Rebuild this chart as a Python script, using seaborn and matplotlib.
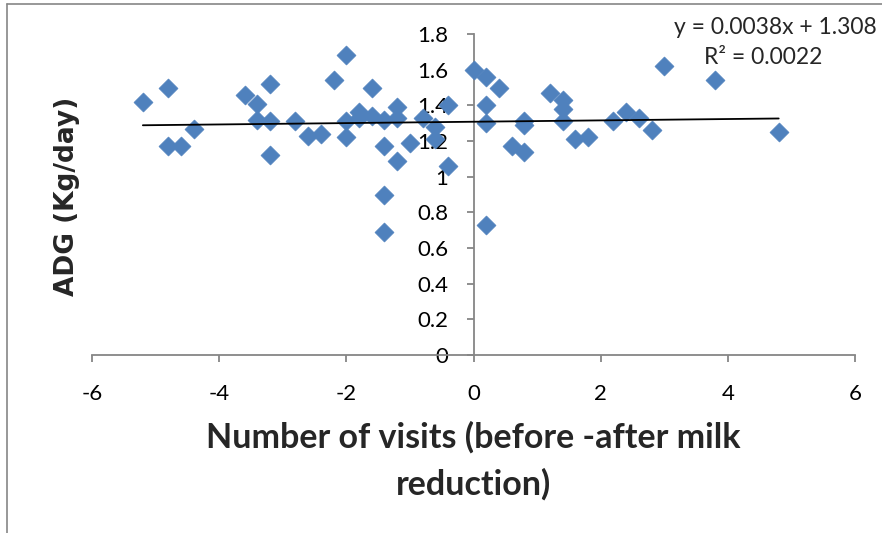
import matplotlib
matplotlib.use("Agg")
import matplotlib.pyplot as plt
from matplotlib.lines import Line2D
import numpy as np
import pandas as pd
import seaborn as sns

# Change in number of visits (before - after milk reduction) and average daily gain
visits_diff = [
    -5.2, -4.8, -4.8, -4.6, -4.4, -3.6, -3.4, -3.4, -3.2, -3.2, -3.2,
    -2.8, -2.6, -2.4, -2.2, -2.0, -2.0, -2.0, -1.8, -1.8, -1.6, -1.6,
    -1.4, -1.4, -1.4, -1.4, -1.2, -1.2, -1.2, -1.0, -0.8, -0.6, -0.6,
    -0.4, -0.4, 0.0, 0.2, 0.2, 0.2, 0.2, 0.4, 0.6, 0.8, 0.8, 0.8,
    1.2, 1.4, 1.4, 1.4, 1.6, 1.8, 2.2, 2.4, 2.6, 2.8, 3.0, 3.8, 4.8,
]
adg = [
    1.42, 1.50, 1.17, 1.17, 1.27, 1.46, 1.41, 1.32, 1.52, 1.31, 1.12,
    1.31, 1.23, 1.24, 1.54, 1.68, 1.31, 1.22, 1.36, 1.33, 1.50, 1.34,
    1.32, 1.17, 0.90, 0.69, 1.39, 1.33, 1.09, 1.19, 1.33, 1.28, 1.21,
    1.40, 1.06, 1.60, 1.56, 1.40, 1.30, 0.73, 1.50, 1.17, 1.31, 1.29, 1.14,
    1.47, 1.43, 1.38, 1.31, 1.21, 1.22, 1.31, 1.36, 1.33, 1.26, 1.62, 1.54, 1.25,
]

# Linear trend line parameters
slope = 0.0038
intercept = 1.308
r_squared = 0.0022

x_ticks = [-6, -4, -2, 0, 2, 4, 6]
y_ticks = [0, 0.2, 0.4, 0.6, 0.8, 1.0, 1.2, 1.4, 1.6, 1.8]
y_tick_labels = ["0", "0.2", "0.4", "0.6", "0.8", "1", "1.2", "1.4", "1.6", "1.8"]

df = pd.DataFrame({"visits": visits_diff, "adg": adg})

sns.set_theme(style="white")
plt.rcParams["font.family"] = ["Lato", "DejaVu Sans"]

axis_grey = "#868686"
point_blue = "#4F81BD"

fig = plt.figure(figsize=(8.82, 5.33), dpi=100)
ax = fig.add_axes([92 / 882, 1 - 355 / 533, 763 / 882, 321 / 533])

sns.scatterplot(data=df, x="visits", y="adg", marker="D", s=95,
                color=point_blue, edgecolor=point_blue, linewidth=0.4,
                ax=ax, zorder=3, clip_on=False)

# Trend line over the observed range
line_x = np.array([min(visits_diff), max(visits_diff)])
ax.plot(line_x, slope * line_x + intercept, color="black", lw=1.3, zorder=4)

ax.set_xlim(-6, 6)
ax.set_ylim(0, 1.8)
ax.set_xticks(x_ticks)
ax.set_xticklabels([str(t) for t in x_ticks])
ax.set_yticks(y_ticks)
ax.set_yticklabels(y_tick_labels)

for side in ["top", "right"]:
    ax.spines[side].set_visible(False)
ax.spines["left"].set_position(("data", 0))
for side in ["left", "bottom"]:
    ax.spines[side].set_color(axis_grey)
    ax.spines[side].set_linewidth(1.3)

ax.tick_params(axis="both", which="both", direction="out", length=5,
               width=1.3, color=axis_grey, labelsize=16, labelcolor="black")
ax.tick_params(axis="x", pad=16, bottom=True)
ax.tick_params(axis="y", pad=13, left=True)

ax.set_xlabel("Number of visits (before -after milk\nreduction)",
              fontsize=24.5, fontweight="bold", labelpad=12, linespacing=1.55)
ax.set_ylabel("")
fig.text(67 / 882, 1 - 196 / 533, "ADG (Kg/day)", rotation=90,
         fontsize=19, fontweight="bold", family="DejaVu Sans",
         ha="center", va="center")

fig.text(775 / 882, 1 - 27 / 533, f"y = {slope}x + {intercept}",
         fontsize=16.5, ha="center", va="center")
fig.text(763 / 882, 1 - 57 / 533, f"R\u00b2 = {r_squared}",
         fontsize=16.5, ha="center", va="center")

# Chart area border
fig.add_artist(Line2D([7 / 882, 1.0], [1 - 4 / 533, 1 - 4 / 533],
                      transform=fig.transFigure, color=axis_grey, lw=1.2))
fig.add_artist(Line2D([7 / 882, 7 / 882], [0.0, 1 - 4 / 533],
                      transform=fig.transFigure, color=axis_grey, lw=1.2))

fig.savefig("out.png", dpi=100)
